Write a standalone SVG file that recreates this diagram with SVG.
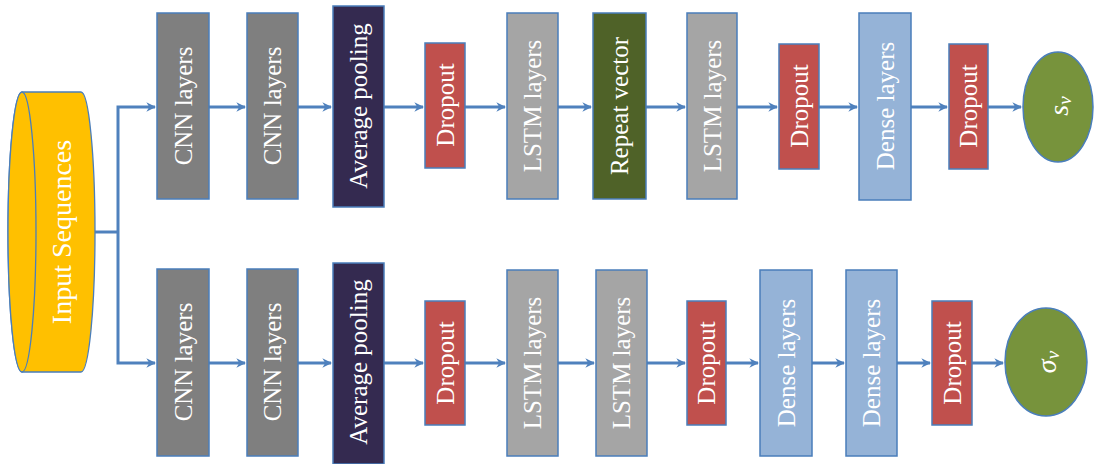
<svg xmlns="http://www.w3.org/2000/svg" width="1095" height="464" viewBox="0 0 1095 464">
<defs>
<style>
.box{stroke:#4a7ebb;stroke-width:1.5}
.cnn{fill:#7f7f7f}
.pool{fill:#342a50}
.drop{fill:#c0504d}
.lstm{fill:#a5a5a5}
.rep{fill:#4f6228}
.dense{fill:#95b3d7}
.out{fill:#77933c;stroke:#4a7ebb;stroke-width:1.5}
text{font-family:'Liberation Serif',serif}
.lbl{font-size:25px;fill:#ffffff;text-anchor:middle;dominant-baseline:central}
.math{font-style:italic;font-size:28px;fill:#ffffff;text-anchor:middle;dominant-baseline:central}
.con{fill:none;stroke:#4f81bd;stroke-width:3}
</style>
<marker id="ah" viewBox="0 0 10 10" refX="9" refY="5" markerWidth="3.2" markerHeight="3.2" orient="auto" markerUnits="strokeWidth">
<path d="M0,0 L10,5 L0,10 L3,5 Z" fill="#4f81bd"/>
</marker>
</defs>
<rect width="1095" height="464" fill="#ffffff"/>

<g id="input">
<path d="M22,92 L81,92 A14,140 0 0 1 81,372 L22,372 A14,140 0 0 1 22,92 Z" fill="#ffc000" stroke="#4a7ebb" stroke-width="1.3"/>
<ellipse cx="22" cy="232" rx="14" ry="140" fill="#ffc000" stroke="#4a7ebb" stroke-width="1.3"/>
<text class="lbl" font-family="Liberation Serif, serif" transform="translate(61,232) rotate(-90)" style="font-size:28px">Input Sequences</text>
</g>

<g id="connectors">
<polyline class="con" points="95,232 118,232"/>
<polyline class="con" points="118,232 118,107 155,107" marker-end="url(#ah)"/>
<polyline class="con" points="118,232 118,363 155,363" marker-end="url(#ah)"/>
<line class="con" x1="209" y1="107" x2="245" y2="107" marker-end="url(#ah)"/>
<line class="con" x1="298" y1="107" x2="331" y2="107" marker-end="url(#ah)"/>
<line class="con" x1="384" y1="107" x2="423" y2="107" marker-end="url(#ah)"/>
<line class="con" x1="465" y1="107" x2="505" y2="107" marker-end="url(#ah)"/>
<line class="con" x1="558" y1="107" x2="591" y2="107" marker-end="url(#ah)"/>
<line class="con" x1="646" y1="107" x2="685" y2="107" marker-end="url(#ah)"/>
<line class="con" x1="737" y1="107" x2="777" y2="107" marker-end="url(#ah)"/>
<line class="con" x1="819" y1="107" x2="857" y2="107" marker-end="url(#ah)"/>
<line class="con" x1="911" y1="107" x2="947" y2="107" marker-end="url(#ah)"/>
<line class="con" x1="988" y1="107" x2="1021" y2="107" marker-end="url(#ah)"/>
<line class="con" x1="209" y1="363" x2="245" y2="363" marker-end="url(#ah)"/>
<line class="con" x1="298" y1="363" x2="331" y2="363" marker-end="url(#ah)"/>
<line class="con" x1="384" y1="363" x2="423" y2="363" marker-end="url(#ah)"/>
<line class="con" x1="465" y1="363" x2="505" y2="363" marker-end="url(#ah)"/>
<line class="con" x1="558" y1="363" x2="594" y2="363" marker-end="url(#ah)"/>
<line class="con" x1="647" y1="363" x2="685" y2="363" marker-end="url(#ah)"/>
<line class="con" x1="726" y1="363" x2="758" y2="363" marker-end="url(#ah)"/>
<line class="con" x1="812" y1="363" x2="844" y2="363" marker-end="url(#ah)"/>
<line class="con" x1="897" y1="363" x2="930" y2="363" marker-end="url(#ah)"/>
<line class="con" x1="972" y1="363" x2="1003" y2="363" marker-end="url(#ah)"/>
</g>

<g id="top-cnn1"><rect class="box cnn" x="157" y="13" width="52" height="186"/><text class="lbl" transform="translate(183,106) rotate(-90)">CNN layers</text></g>
<g id="top-cnn2"><rect class="box cnn" x="247" y="13" width="51" height="186"/><text class="lbl" transform="translate(272.5,106) rotate(-90)">CNN layers</text></g>
<g id="top-pool"><rect class="box pool" x="333" y="6" width="51" height="201"/><text class="lbl" transform="translate(358.5,106) rotate(-90)">Average pooling</text></g>
<g id="top-drop1"><rect class="box drop" x="425" y="43" width="40" height="125"/><text class="lbl" transform="translate(445,105) rotate(-90)">Dropout</text></g>
<g id="top-lstm1"><rect class="box lstm" x="507" y="13" width="51" height="186"/><text class="lbl" transform="translate(532.5,106) rotate(-90)">LSTM layers</text></g>
<g id="top-repeat"><rect class="box rep" x="593" y="13" width="53" height="186"/><text class="lbl" transform="translate(619.5,106) rotate(-90)">Repeat vector</text></g>
<g id="top-lstm2"><rect class="box lstm" x="687" y="13" width="50" height="186"/><text class="lbl" transform="translate(712,106) rotate(-90)">LSTM layers</text></g>
<g id="top-drop2"><rect class="box drop" x="779" y="44" width="40" height="125"/><text class="lbl" transform="translate(799,106) rotate(-90)">Dropout</text></g>
<g id="top-dense"><rect class="box dense" x="859" y="13" width="52" height="187"/><text class="lbl" transform="translate(885,106) rotate(-90)">Dense layers</text></g>
<g id="top-drop3"><rect class="box drop" x="949" y="44" width="39" height="125"/><text class="lbl" transform="translate(968.5,106) rotate(-90)">Dropout</text></g>
<g id="top-out"><ellipse class="out" cx="1058" cy="107" rx="35" ry="55"/><text class="math" transform="translate(1058,106) rotate(-90)">s<tspan font-size="19" dy="6">v</tspan></text></g>

<g id="bot-cnn1"><rect class="box cnn" x="157" y="269" width="52" height="187"/><text class="lbl" transform="translate(183,362) rotate(-90)">CNN layers</text></g>
<g id="bot-cnn2"><rect class="box cnn" x="247" y="269" width="51" height="187"/><text class="lbl" transform="translate(272.5,362) rotate(-90)">CNN layers</text></g>
<g id="bot-pool"><rect class="box pool" x="333" y="263" width="51" height="201"/><text class="lbl" transform="translate(358.5,362) rotate(-90)">Average pooling</text></g>
<g id="bot-drop1"><rect class="box drop" x="425" y="301" width="40" height="124"/><text class="lbl" transform="translate(445,363) rotate(-90)">Dropout</text></g>
<g id="bot-lstm1"><rect class="box lstm" x="507" y="270" width="51" height="186"/><text class="lbl" transform="translate(532.5,363) rotate(-90)">LSTM layers</text></g>
<g id="bot-lstm2"><rect class="box lstm" x="596" y="270" width="51" height="186"/><text class="lbl" transform="translate(621.5,363) rotate(-90)">LSTM layers</text></g>
<g id="bot-drop2"><rect class="box drop" x="687" y="301" width="39" height="124"/><text class="lbl" transform="translate(706.5,363) rotate(-90)">Dropout</text></g>
<g id="bot-dense1"><rect class="box dense" x="760" y="270" width="52" height="186"/><text class="lbl" transform="translate(786,363) rotate(-90)">Dense layers</text></g>
<g id="bot-dense2"><rect class="box dense" x="846" y="270" width="51" height="186"/><text class="lbl" transform="translate(871.5,363) rotate(-90)">Dense layers</text></g>
<g id="bot-drop3"><rect class="box drop" x="932" y="301" width="40" height="124"/><text class="lbl" transform="translate(952,363) rotate(-90)">Dropout</text></g>
<g id="bot-out"><ellipse class="out" cx="1046" cy="362" rx="41" ry="54"/><text class="math" transform="translate(1046,362) rotate(-90)">σ<tspan font-size="19" dy="6">v</tspan></text></g>
</svg>
